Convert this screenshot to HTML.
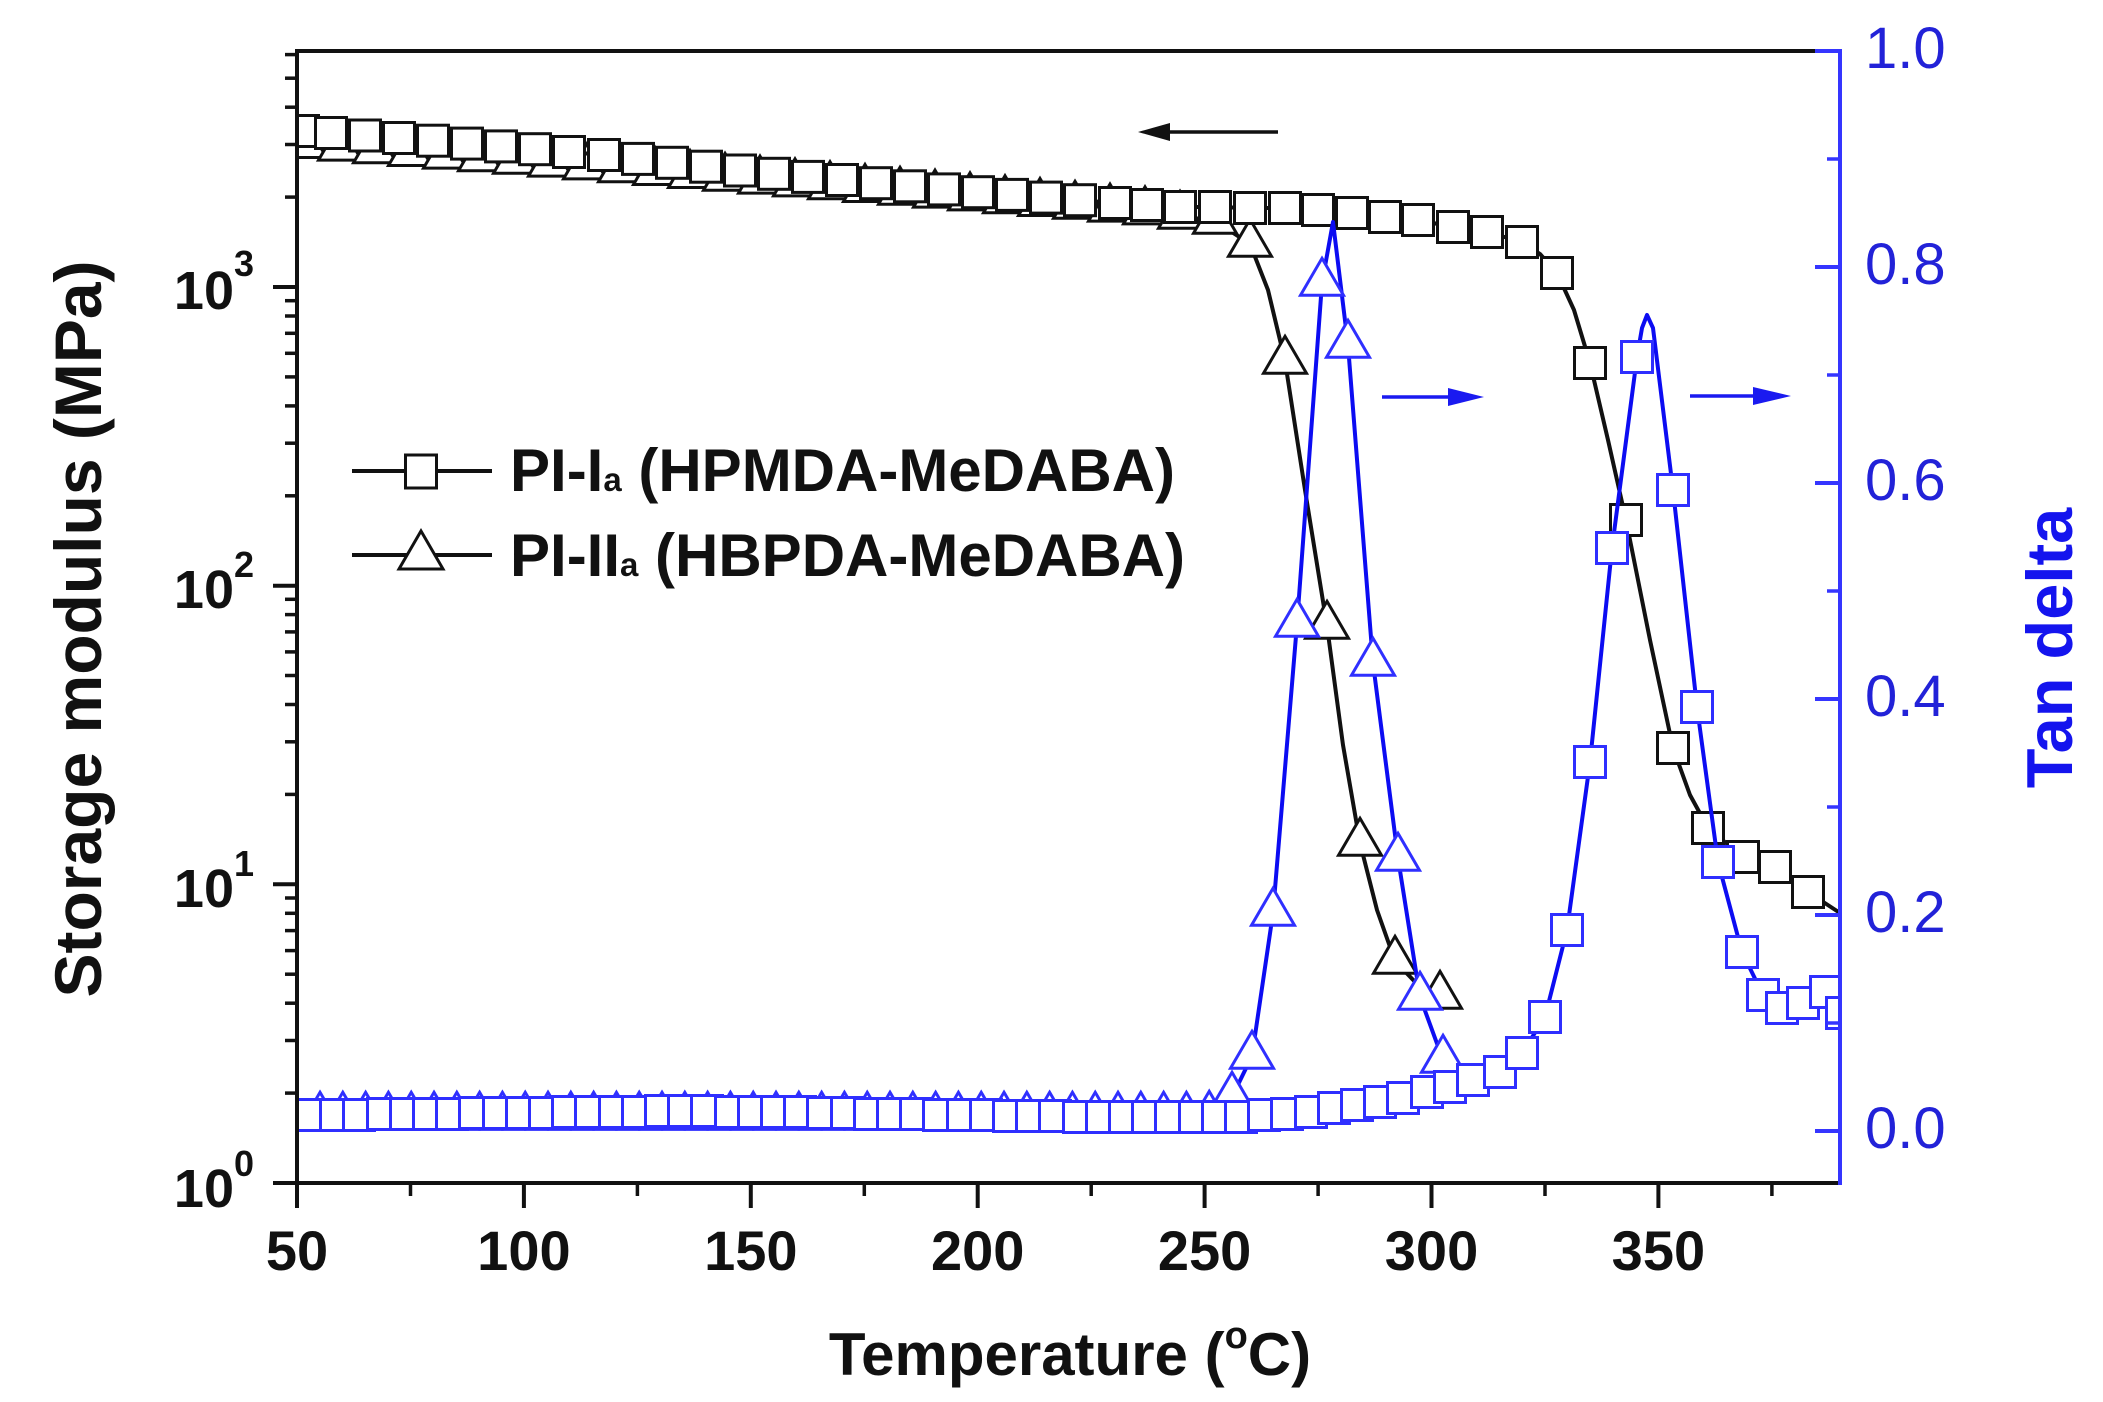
<!DOCTYPE html>
<html>
<head>
<meta charset="utf-8">
<style>
html,body{margin:0;padding:0;background:#fff;}
svg{display:block;}
text{font-family:"Liberation Sans",Arial,sans-serif;}
</style>
</head>
<body>
<svg width="2103" height="1402" viewBox="0 0 2103 1402" xmlns="http://www.w3.org/2000/svg">
<defs>
<clipPath id="pa"><rect x="297" y="51" width="1543" height="1132"/></clipPath>
<rect id="sk" x="-15.5" y="-15.5" width="31" height="31" fill="#fff" stroke="#111" stroke-width="3"/>
<polygon id="tk" points="0,-24.7 21.5,12.3 -21.5,12.3" fill="#fff" stroke="#111" stroke-width="3" stroke-linejoin="miter"/>
<rect id="sb" x="-15.5" y="-15.5" width="31" height="31" fill="#fff" stroke="#2f2fff" stroke-width="3"/>
<polygon id="tb" points="0,-24.7 21.5,12.3 -21.5,12.3" fill="#fff" stroke="#2f2fff" stroke-width="3"/>
</defs>

<g clip-path="url(#pa)">
<!-- PI-IIa storage modulus (black triangles) -->
<polyline fill="none" stroke="#111" stroke-width="4" stroke-linejoin="round" points="297,144.5 305,145.2 340,147.8 375,150.5 410,153.2 445,155.8 480,158.5 515,161 550,163.8 585,166.6 620,169.4 655,172.2 690,175.2 725,178 760,180.8 795,183.6 830,186.4 865,189.2 900,192 935,194.8 970,197.6 1005,200.4 1040,203.2 1075,206 1110,208.8 1145,211.6 1180,216 1215,221 1250,244 1268,290 1285,361 1305,490 1327,626 1343,745 1360,843 1377,910 1395,961 1418,985 1440,996"/>
<g>
<use href="#tk" x="305" y="145.2"/><use href="#tk" x="340" y="147.8"/><use href="#tk" x="375" y="150.5"/><use href="#tk" x="410" y="153.2"/><use href="#tk" x="445" y="155.8"/><use href="#tk" x="480" y="158.5"/><use href="#tk" x="515" y="161"/><use href="#tk" x="550" y="163.8"/><use href="#tk" x="585" y="166.6"/><use href="#tk" x="620" y="169.4"/><use href="#tk" x="655" y="172.2"/><use href="#tk" x="690" y="175.2"/><use href="#tk" x="725" y="178"/><use href="#tk" x="760" y="180.8"/><use href="#tk" x="795" y="183.6"/><use href="#tk" x="830" y="186.4"/><use href="#tk" x="865" y="189.2"/><use href="#tk" x="900" y="192"/><use href="#tk" x="935" y="194.8"/><use href="#tk" x="970" y="197.6"/><use href="#tk" x="1005" y="200.4"/><use href="#tk" x="1040" y="203.2"/><use href="#tk" x="1075" y="206"/><use href="#tk" x="1110" y="208.8"/><use href="#tk" x="1145" y="211.6"/><use href="#tk" x="1180" y="216"/><use href="#tk" x="1215" y="221"/><use href="#tk" x="1250" y="244"/><use href="#tk" x="1285" y="361"/><use href="#tk" x="1327" y="626"/><use href="#tk" x="1360" y="843"/><use href="#tk" x="1395" y="961"/><use href="#tk" x="1440" y="996"/>
</g>

<!-- PI-Ia storage modulus (black squares) -->
<polyline fill="none" stroke="#111" stroke-width="4" stroke-linejoin="round" points="297,130.5 303,131 331,133 365,135.5 399,138 433,140.7 467,143.6 501,146.4 535,149.2 569,152 604,155 638,158.9 672,162.8 706,166.7 740,170.5 774,173.8 808,176.9 842,180 876,183.2 910,186.3 944,189.4 978,192.2 1012,194.9 1046,197.6 1080,200.2 1115,203 1147,205 1180,207 1215,207 1250,208 1285,208 1318,210 1352,213 1385,217 1418,220 1453,227 1487,232 1522,242 1540,254 1557,273 1574,310 1590,363 1608,440 1626,520 1650,640 1673,748 1690,795 1708,828 1743,857 1775,867 1808,892 1840,913"/>
<g>
<use href="#sk" x="303" y="131"/><use href="#sk" x="331" y="133"/><use href="#sk" x="365" y="135.5"/><use href="#sk" x="399" y="138"/><use href="#sk" x="433" y="140.7"/><use href="#sk" x="467" y="143.6"/><use href="#sk" x="501" y="146.4"/><use href="#sk" x="535" y="149.2"/><use href="#sk" x="569" y="152"/><use href="#sk" x="604" y="155"/><use href="#sk" x="638" y="158.9"/><use href="#sk" x="672" y="162.8"/><use href="#sk" x="706" y="166.7"/><use href="#sk" x="740" y="170.5"/><use href="#sk" x="774" y="173.8"/><use href="#sk" x="808" y="176.9"/><use href="#sk" x="842" y="180"/><use href="#sk" x="876" y="183.2"/><use href="#sk" x="910" y="186.3"/><use href="#sk" x="944" y="189.4"/><use href="#sk" x="978" y="192.2"/><use href="#sk" x="1012" y="194.9"/><use href="#sk" x="1046" y="197.6"/><use href="#sk" x="1080" y="200.2"/><use href="#sk" x="1115" y="203"/><use href="#sk" x="1147" y="205"/><use href="#sk" x="1180" y="207"/><use href="#sk" x="1215" y="207"/><use href="#sk" x="1250" y="208"/><use href="#sk" x="1285" y="208"/><use href="#sk" x="1318" y="210"/><use href="#sk" x="1352" y="213"/><use href="#sk" x="1385" y="217"/><use href="#sk" x="1418" y="220"/><use href="#sk" x="1453" y="227"/><use href="#sk" x="1487" y="232"/><use href="#sk" x="1522" y="242"/><use href="#sk" x="1557" y="273"/><use href="#sk" x="1590" y="363"/><use href="#sk" x="1626" y="520"/><use href="#sk" x="1673" y="748"/><use href="#sk" x="1708" y="828"/><use href="#sk" x="1743" y="857"/><use href="#sk" x="1775" y="867"/><use href="#sk" x="1808" y="892"/>
</g>

<!-- PI-IIa tan delta (blue triangles) -->
<polyline fill="none" stroke="#0c0cf2" stroke-width="4" stroke-linejoin="round" points="297,1117 1186,1117 1209,1116 1232,1097 1252,1056 1273,913 1297,624 1322,283 1333,222 1348,345 1373,663 1398,858 1420,997 1443,1060"/>
<g>
<use href="#tb" x="320" y="1117"/><use href="#tb" x="342.8" y="1117"/><use href="#tb" x="365.6" y="1117"/><use href="#tb" x="388.4" y="1117"/><use href="#tb" x="411.2" y="1117"/><use href="#tb" x="434" y="1117"/><use href="#tb" x="456.8" y="1117"/><use href="#tb" x="479.6" y="1117"/><use href="#tb" x="502.4" y="1117"/><use href="#tb" x="525.2" y="1117"/><use href="#tb" x="548" y="1117"/><use href="#tb" x="570.8" y="1117"/><use href="#tb" x="593.6" y="1117"/><use href="#tb" x="616.4" y="1117"/><use href="#tb" x="639.2" y="1117"/><use href="#tb" x="662" y="1117"/><use href="#tb" x="684.8" y="1117"/><use href="#tb" x="707.6" y="1117"/><use href="#tb" x="730.4" y="1117"/><use href="#tb" x="753.2" y="1117"/><use href="#tb" x="776" y="1117"/><use href="#tb" x="798.8" y="1117"/><use href="#tb" x="821.6" y="1117"/><use href="#tb" x="844.4" y="1117"/><use href="#tb" x="867.2" y="1117"/><use href="#tb" x="890" y="1117"/><use href="#tb" x="912.8" y="1117"/><use href="#tb" x="935.6" y="1117"/><use href="#tb" x="958.4" y="1117"/><use href="#tb" x="981.2" y="1117"/><use href="#tb" x="1004" y="1117"/><use href="#tb" x="1026.8" y="1117"/><use href="#tb" x="1049.6" y="1117"/><use href="#tb" x="1072.4" y="1117"/><use href="#tb" x="1095.2" y="1117"/><use href="#tb" x="1118" y="1117"/><use href="#tb" x="1140.8" y="1117"/><use href="#tb" x="1163.6" y="1117"/><use href="#tb" x="1186.4" y="1117"/><use href="#tb" x="1209.2" y="1116"/><use href="#tb" x="1232" y="1097"/><use href="#tb" x="1252" y="1056"/><use href="#tb" x="1273" y="913"/><use href="#tb" x="1297" y="624"/><use href="#tb" x="1322" y="283"/><use href="#tb" x="1348" y="345"/><use href="#tb" x="1373" y="663"/><use href="#tb" x="1398" y="858"/><use href="#tb" x="1420" y="997"/><use href="#tb" x="1443" y="1060"/>
</g>

<!-- PI-Ia tan delta (blue squares) -->
<polyline fill="none" stroke="#0c0cf2" stroke-width="4" stroke-linejoin="round" points="297,1115 313,1115 500,1113 700,1111 900,1114 1100,1117 1250,1117 1268,1115 1292,1113 1313,1112 1337,1108 1358,1105 1382,1102 1405,1098 1427,1092 1450,1087 1473,1080 1500,1072 1522,1053 1545,1017 1567,930 1590,762 1612,548 1637,357 1642,328 1647,315 1653,328 1673,490 1697,707 1718,862 1742,952 1763,995 1782,1008 1803,1003 1826,992 1842,1013"/>
<g>
<use href="#sb" x="313" y="1115"/><use href="#sb" x="336" y="1115"/><use href="#sb" x="359" y="1115"/><use href="#sb" x="383" y="1114"/><use href="#sb" x="406" y="1114"/><use href="#sb" x="429" y="1114"/><use href="#sb" x="452" y="1114"/><use href="#sb" x="475" y="1113"/><use href="#sb" x="499" y="1113"/><use href="#sb" x="522" y="1113"/><use href="#sb" x="545" y="1113"/><use href="#sb" x="568" y="1112"/><use href="#sb" x="591" y="1112"/><use href="#sb" x="615" y="1112"/><use href="#sb" x="638" y="1112"/><use href="#sb" x="661" y="1111"/><use href="#sb" x="684" y="1111"/><use href="#sb" x="707" y="1111"/><use href="#sb" x="731" y="1112"/><use href="#sb" x="754" y="1112"/><use href="#sb" x="777" y="1112"/><use href="#sb" x="800" y="1112"/><use href="#sb" x="823" y="1113"/><use href="#sb" x="847" y="1113"/><use href="#sb" x="870" y="1114"/><use href="#sb" x="893" y="1114"/><use href="#sb" x="916" y="1114"/><use href="#sb" x="939" y="1115"/><use href="#sb" x="963" y="1115"/><use href="#sb" x="986" y="1115"/><use href="#sb" x="1009" y="1116"/><use href="#sb" x="1032" y="1116"/><use href="#sb" x="1055" y="1116"/><use href="#sb" x="1079" y="1117"/><use href="#sb" x="1102" y="1117"/><use href="#sb" x="1125" y="1117"/><use href="#sb" x="1148" y="1117"/><use href="#sb" x="1171" y="1117"/><use href="#sb" x="1195" y="1117"/><use href="#sb" x="1218" y="1117"/><use href="#sb" x="1241" y="1117"/><use href="#sb" x="1264" y="1115"/><use href="#sb" x="1287" y="1114"/><use href="#sb" x="1311" y="1112"/><use href="#sb" x="1334" y="1108"/><use href="#sb" x="1357" y="1105"/><use href="#sb" x="1380" y="1102"/><use href="#sb" x="1403" y="1098"/><use href="#sb" x="1427" y="1092"/><use href="#sb" x="1450" y="1087"/><use href="#sb" x="1473" y="1080"/><use href="#sb" x="1500" y="1072"/><use href="#sb" x="1522" y="1053"/><use href="#sb" x="1545" y="1017"/><use href="#sb" x="1567" y="930"/><use href="#sb" x="1590" y="762"/><use href="#sb" x="1612" y="548"/><use href="#sb" x="1637" y="357"/><use href="#sb" x="1673" y="490"/><use href="#sb" x="1697" y="707"/><use href="#sb" x="1718" y="862"/><use href="#sb" x="1742" y="952"/><use href="#sb" x="1763" y="995"/><use href="#sb" x="1782" y="1008"/><use href="#sb" x="1803" y="1003"/><use href="#sb" x="1826" y="992"/><use href="#sb" x="1842" y="1013"/>
</g>
</g>

<!-- Axes -->
<g stroke="#111" stroke-width="4" fill="none">
<line x1="297" y1="51" x2="1840" y2="51"/>
<line x1="297" y1="49" x2="297" y2="1185"/>
<line x1="295" y1="1183" x2="1842" y2="1183"/>
</g>
<line x1="1840" y1="49" x2="1840" y2="1185" stroke="#3535ff" stroke-width="4"/>

<!-- Left major ticks -->
<g stroke="#111" stroke-width="4">
<line x1="273" y1="1183" x2="297" y2="1183"/>
<line x1="273" y1="884.3" x2="297" y2="884.3"/>
<line x1="273" y1="585.7" x2="297" y2="585.7"/>
<line x1="273" y1="287" x2="297" y2="287"/>
</g>
<!-- Left minor ticks -->
<g stroke="#111" stroke-width="3.5">
<line x1="285" y1="1093.1" x2="297" y2="1093.1"/><line x1="285" y1="1040.5" x2="297" y2="1040.5"/><line x1="285" y1="1003.2" x2="297" y2="1003.2"/><line x1="285" y1="974.2" x2="297" y2="974.2"/><line x1="285" y1="950.6" x2="297" y2="950.6"/><line x1="285" y1="930.6" x2="297" y2="930.6"/><line x1="285" y1="913.3" x2="297" y2="913.3"/><line x1="285" y1="898" x2="297" y2="898"/>
<line x1="285" y1="794.4" x2="297" y2="794.4"/><line x1="285" y1="741.8" x2="297" y2="741.8"/><line x1="285" y1="704.5" x2="297" y2="704.5"/><line x1="285" y1="675.5" x2="297" y2="675.5"/><line x1="285" y1="651.9" x2="297" y2="651.9"/><line x1="285" y1="631.9" x2="297" y2="631.9"/><line x1="285" y1="614.6" x2="297" y2="614.6"/><line x1="285" y1="599.3" x2="297" y2="599.3"/>
<line x1="285" y1="495.8" x2="297" y2="495.8"/><line x1="285" y1="443.2" x2="297" y2="443.2"/><line x1="285" y1="405.9" x2="297" y2="405.9"/><line x1="285" y1="376.9" x2="297" y2="376.9"/><line x1="285" y1="353.3" x2="297" y2="353.3"/><line x1="285" y1="333.3" x2="297" y2="333.3"/><line x1="285" y1="316" x2="297" y2="316"/><line x1="285" y1="300.7" x2="297" y2="300.7"/>
<line x1="285" y1="197.1" x2="297" y2="197.1"/><line x1="285" y1="144.5" x2="297" y2="144.5"/><line x1="285" y1="107.2" x2="297" y2="107.2"/><line x1="285" y1="78.2" x2="297" y2="78.2"/><line x1="285" y1="54.6" x2="297" y2="54.6"/>
</g>
<!-- Bottom ticks -->
<g stroke="#111" stroke-width="4">
<line x1="297" y1="1183" x2="297" y2="1208"/><line x1="523.9" y1="1183" x2="523.9" y2="1208"/><line x1="750.8" y1="1183" x2="750.8" y2="1208"/><line x1="977.7" y1="1183" x2="977.7" y2="1208"/><line x1="1204.6" y1="1183" x2="1204.6" y2="1208"/><line x1="1431.5" y1="1183" x2="1431.5" y2="1208"/><line x1="1658.4" y1="1183" x2="1658.4" y2="1208"/>
</g>
<g stroke="#111" stroke-width="3.5">
<line x1="410.5" y1="1183" x2="410.5" y2="1196"/><line x1="637.4" y1="1183" x2="637.4" y2="1196"/><line x1="864.3" y1="1183" x2="864.3" y2="1196"/><line x1="1091.2" y1="1183" x2="1091.2" y2="1196"/><line x1="1318.1" y1="1183" x2="1318.1" y2="1196"/><line x1="1545" y1="1183" x2="1545" y2="1196"/><line x1="1771.9" y1="1183" x2="1771.9" y2="1196"/>
</g>
<!-- Right ticks -->
<g stroke="#3535ff" stroke-width="4">
<line x1="1815" y1="51" x2="1840" y2="51"/><line x1="1815" y1="267" x2="1840" y2="267"/><line x1="1815" y1="483" x2="1840" y2="483"/><line x1="1815" y1="699" x2="1840" y2="699"/><line x1="1815" y1="915" x2="1840" y2="915"/><line x1="1815" y1="1131" x2="1840" y2="1131"/>
</g>
<g stroke="#3535ff" stroke-width="3.5">
<line x1="1827" y1="159" x2="1840" y2="159"/><line x1="1827" y1="375" x2="1840" y2="375"/><line x1="1827" y1="591" x2="1840" y2="591"/><line x1="1827" y1="807" x2="1840" y2="807"/><line x1="1827" y1="1023" x2="1840" y2="1023"/>
</g>

<!-- Left tick labels -->
<g font-weight="bold" fill="#111">
<text x="234" y="1207" font-size="54" text-anchor="end">10</text><text x="234" y="1176" font-size="36">0</text>
<text x="234" y="907" font-size="54" text-anchor="end">10</text><text x="234" y="876" font-size="36">1</text>
<text x="234" y="608" font-size="54" text-anchor="end">10</text><text x="234" y="577" font-size="36">2</text>
<text x="234" y="309" font-size="54" text-anchor="end">10</text><text x="234" y="276" font-size="36">3</text>
</g>
<!-- Bottom tick labels -->
<g font-weight="bold" fill="#111" font-size="56" text-anchor="middle">
<text x="297" y="1270">50</text>
<text x="523.9" y="1270">100</text>
<text x="750.8" y="1270">150</text>
<text x="977.7" y="1270">200</text>
<text x="1204.6" y="1270">250</text>
<text x="1431.5" y="1270">300</text>
<text x="1658.4" y="1270">350</text>
</g>
<!-- Right tick labels -->
<g fill="#2222d8" font-size="58">
<text x="1865" y="68">1.0</text>
<text x="1865" y="284">0.8</text>
<text x="1865" y="500">0.6</text>
<text x="1865" y="716">0.4</text>
<text x="1865" y="932">0.2</text>
<text x="1865" y="1148">0.0</text>
</g>

<!-- Axis titles -->
<text transform="translate(101,629) rotate(-90)" text-anchor="middle" font-size="66" font-weight="bold" fill="#111">Storage modulus (MPa)</text>
<text transform="translate(2072,648) rotate(-90)" text-anchor="middle" font-size="65" font-weight="bold" fill="#1414ee">Tan delta</text>
<text x="1070" y="1375" text-anchor="middle" font-size="60" font-weight="bold" fill="#111">Temperature (<tspan font-size="38" dy="-27">o</tspan><tspan dy="27">C)</tspan></text>

<!-- Legend -->
<line x1="352" y1="471" x2="492" y2="471" stroke="#111" stroke-width="4"/>
<rect x="405.5" y="455" width="31" height="33" fill="#fff" stroke="#111" stroke-width="3"/>
<line x1="352" y1="555" x2="492" y2="555" stroke="#111" stroke-width="4"/>
<polygon points="421,531 443,569 399,569" fill="#fff" stroke="#111" stroke-width="3"/>
<text x="510" y="491" font-size="60" font-weight="bold" fill="#111">PI-I<tspan font-size="33">a</tspan> (HPMDA-MeDABA)</text>
<text x="510" y="576" font-size="60" font-weight="bold" fill="#111">PI-II<tspan font-size="33">a</tspan> (HBPDA-MeDABA)</text>

<!-- Arrows -->
<line x1="1278" y1="132" x2="1160" y2="132" stroke="#111" stroke-width="3.5"/>
<polygon points="1138,132 1170,123 1170,141" fill="#111"/>
<line x1="1382" y1="397" x2="1455" y2="397" stroke="#1a1af0" stroke-width="3.5"/>
<polygon points="1484,397 1448,388 1448,406" fill="#1a1af0"/>
<line x1="1690" y1="396" x2="1760" y2="396" stroke="#1a1af0" stroke-width="3.5"/>
<polygon points="1791,396 1753,387 1753,405" fill="#1a1af0"/>
</svg>
</body>
</html>
